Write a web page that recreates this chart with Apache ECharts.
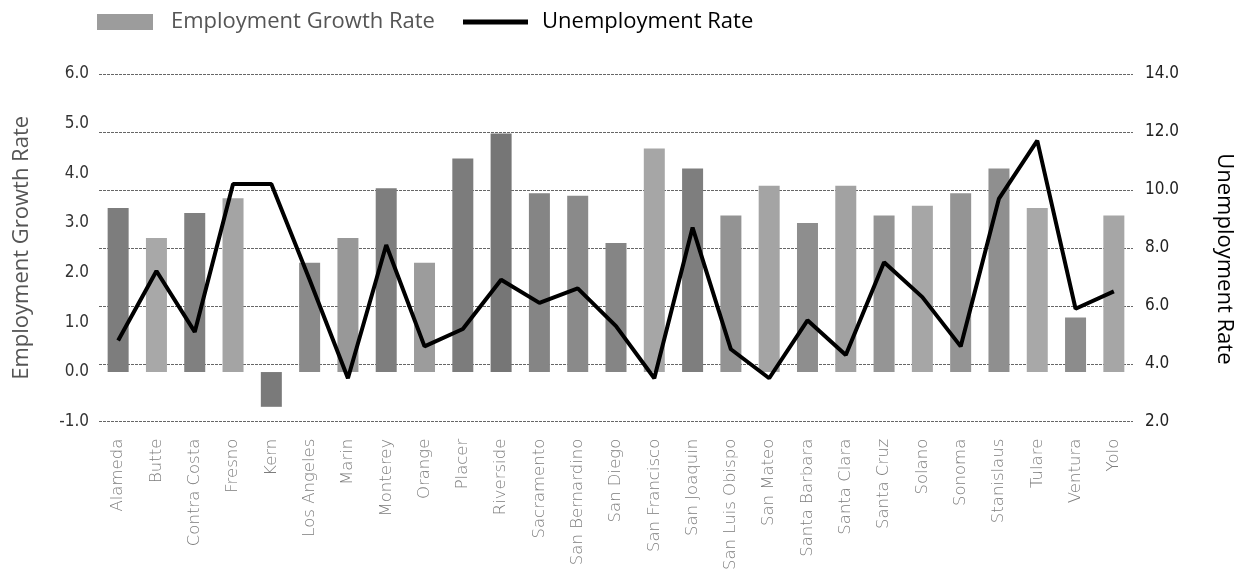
<!DOCTYPE html>
<html>
<head>
<meta charset="utf-8">
<script src="https://cdn.jsdelivr.net/npm/echarts@6/dist/echarts.min.js"></script>
<style>
html,body{margin:0;padding:0;background:#fff;}
#chart{width:1243px;height:573px;}
</style>
</head>
<body>
<div id="chart"></div>
<script>
const counties = ['Alameda','Butte','Contra Costa','Fresno','Kern','Los Angeles','Marin','Monterey','Orange','Placer','Riverside','Sacramento','San Bernardino','San Diego','San Francisco','San Joaquin','San Luis Obispo','San Mateo','Santa Barbara','Santa Clara','Santa Cruz','Solano','Sonoma','Stanislaus','Tulare','Ventura','Yolo'];
const employmentGrowth = [3.3,2.7,3.2,3.5,-0.7,2.2,2.7,3.7,2.2,4.3,4.8,3.6,3.55,2.6,4.5,4.1,3.15,3.75,3.0,3.75,3.15,3.35,3.6,4.1,3.3,1.1,3.15];
const unemployment = [4.8,7.2,5.1,10.2,10.2,6.9,3.5,8.1,4.6,5.2,6.9,6.1,6.6,5.3,3.5,8.7,4.5,3.5,5.5,4.3,7.5,6.3,4.6,9.7,11.7,5.9,6.5];
const leftTicks = {min:-1, max:6, interval:1};
const rightTicks = {min:2, max:14, interval:2};

const barShades = ['#7d7d7d','#a8a8a8','#808080','#a4a4a4','#7a7a7a','#8a8a8a','#989898','#7e7e7e','#9c9c9c','#7c7c7c','#767676','#858585','#8a8a8a','#858585','#a6a6a6','#7e7e7e','#939393','#a4a4a4','#8e8e8e','#a2a2a2','#959595','#a6a6a6','#949494','#8f8f8f','#a8a8a8','#8c8c8c','#a6a6a6'];

const chart = echarts.init(document.getElementById('chart'));
const narrow = '"Liberation Sans Narrow", "DejaVu Sans Condensed", sans-serif';
const sans = '"Open Sans", sans-serif';
chart.setOption({
  animation:false,
  backgroundColor:'#fff',
  legend:[
    {
      left:97, top:11, itemWidth:56, itemHeight:16, padding:0,
      textStyle:{fontFamily:sans, fontSize:22, color:'#555', padding:[0,0,0,13]},
      data:[{name:'Employment Growth Rate', icon:'rect', itemStyle:{color:'#9c9c9c'}}]
    },
    {
      left:463, top:11, itemWidth:65, itemHeight:16, padding:0,
      textStyle:{fontFamily:sans, fontSize:22, color:'#000', padding:[0,0,0,9]},
      data:[{name:'Unemployment Rate', icon:'path://M0,0 M0,5.5 L65,5.5 L65,10.5 L0,10.5 Z M65,16', itemStyle:{color:'#000'}}]
    }
  ],
  grid:{left:99, right:96, top:74, bottom:150},
  xAxis:{
    type:'category', data:counties,
    axisLine:{show:false}, axisTick:{show:false},
    axisLabel:{rotate:90, interval:0, margin:17, color:'#7c7c7c', fontSize:16.5, fontWeight:200, fontFamily:'"DejaVu Sans", sans-serif'}
  },
  yAxis:[
    {type:'value', min:leftTicks.min, max:leftTicks.max, interval:leftTicks.interval,
     name:'Employment Growth Rate', nameLocation:'middle', nameGap:66, nameRotate:90,
     nameTextStyle:{fontSize:22, color:'#555', fontFamily:sans},
     axisLine:{show:false}, axisTick:{show:false}, splitLine:{show:false},
     axisLabel:{formatter:v=>v.toFixed(1), color:'#333', fontSize:17, fontFamily:narrow, margin:10}},
    {type:'value', min:rightTicks.min, max:rightTicks.max, interval:rightTicks.interval, position:'right',
     name:'Unemployment Rate', nameLocation:'middle', nameGap:80, nameRotate:-90,
     nameTextStyle:{fontSize:22, color:'#000', fontFamily:sans, padding:[0,0,0,22]},
     axisLine:{show:false}, axisTick:{show:false},
     splitLine:{show:true, lineStyle:{color:'#666', width:1, type:[3,1]}},
     axisLabel:{formatter:v=>v.toFixed(1), color:'#222', fontSize:17, fontFamily:narrow, margin:12}}
  ],
  series:[
    {name:'Employment Growth Rate', type:'bar', yAxisIndex:0, data:employmentGrowth, barWidth:21,
     itemStyle:{color:p=>barShades[p.dataIndex % barShades.length]}},
    {name:'Unemployment Rate', type:'line', yAxisIndex:1, data:unemployment, symbol:'none',
     lineStyle:{color:'#000', width:4}, itemStyle:{color:'#000'}, z:5}
  ]
});
</script>
</body>
</html>
